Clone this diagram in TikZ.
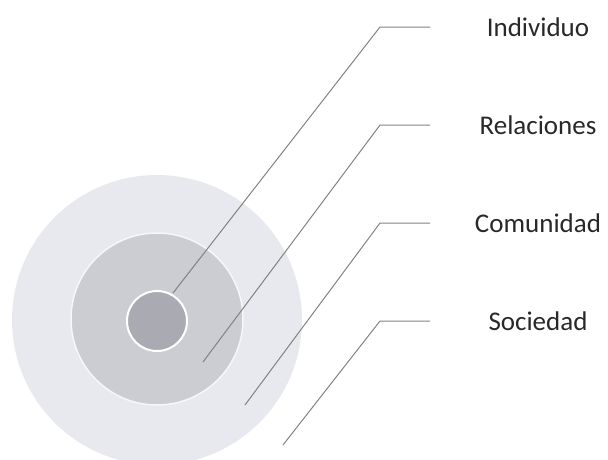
\documentclass[tikz,border=0pt]{standalone}
\usepackage{fontspec}
\setmainfont{Carlito}
\usetikzlibrary{positioning}

\definecolor{outerring}{RGB}{232,232,239}
\definecolor{midring}{RGB}{204,204,211}
\definecolor{innerring}{RGB}{170,170,178}
\definecolor{leadgray}{RGB}{130,130,130}
\definecolor{labelgray}{RGB}{40,40,40}

\begin{document}
\begin{tikzpicture}[x=1pt, y=-1pt, node distance=98pt, on grid, ring/.style={circle, inner sep=0pt}, tag/.style={font=\fontsize{27}{30}\selectfont, text=labelgray}, lead/.style={draw=leadgray, line width=1pt}]
	\useasboundingbox (0,0) rectangle (608,459);
	
	\node[ring, fill=outerring, minimum size=290pt] (S) at (157,320) {};
	\node[ring, fill=midring, draw=white!85!midring, line width=1.5pt, minimum size=172pt] (R) at (157,319) {};
	\node[ring, fill=innerring, draw=white, line width=2pt, minimum size=60pt] (I) at (157,321) {};
	
	\node[tag] (Ind) at (538,27) {Individuo};
	\node[tag] (Rel) [below=of Ind]{Relaciones};
	\node[tag] (Com) [below=of Rel]{Comunidad};
	\node[tag] (Soc) [below=of Com]{Sociedad};
	
	\coordinate (pI) at (173,293);
	\coordinate (pR) at (203,362);
	\coordinate (pC) at (245,405);
	\coordinate (pS) at (283,445);
	
	\draw[lead] (pI) -- ([xshift=-158pt]Ind.center) -- ([xshift=-108pt]Ind.center);
	\draw[lead] (pR) -- ([xshift=-158pt]Rel.center) -- ([xshift=-108pt]Rel.center);
	\draw[lead] (pC) -- ([xshift=-158pt]Com.center) -- ([xshift=-108pt]Com.center);
	\draw[lead] (pS) -- ([xshift=-158pt]Soc.center) -- ([xshift=-108pt]Soc.center);
	
\end{tikzpicture}
\end{document}
